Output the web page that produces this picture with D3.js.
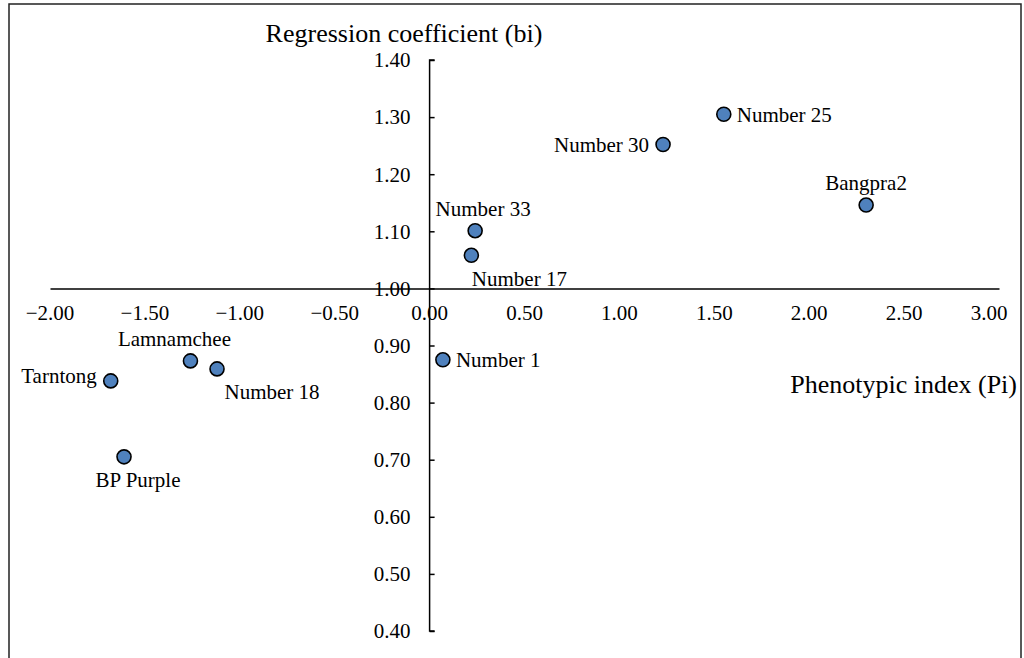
<!DOCTYPE html>
<html><head><meta charset="utf-8">
<script src="https://cdn.jsdelivr.net/npm/d3@7"></script>
<style>body{margin:0;background:#fff}svg{display:block}</style>
</head><body>
<script>
const varieties = ["Number 25","Number 30","Bangpra2","Number 33","Number 17","Number 1","Lamnamchee","Number 18","Tarntong","BP Purple"];
const phenotypicIndex = [1.55, 1.23, 2.30, 0.24, 0.22, 0.07, -1.26, -1.12, -1.68, -1.61];
const regressionCoef = [1.305, 1.252, 1.146, 1.101, 1.058, 0.875, 0.873, 0.859, 0.838, 0.705];
const labelPlacement = ["right","left","above","above","below","right","above","below","left","below"];
const xTicks = [-2.00,-1.50,-1.00,-0.50,0.00,0.50,1.00,1.50,2.00,2.50,3.00];
const yTicks = [0.40,0.50,0.60,0.70,0.80,0.90,1.00,1.10,1.20,1.30,1.40];

const FONT = "'Liberation Serif', 'Times New Roman', serif";
const W = 1024, H = 658;
const svg = d3.select("body").append("svg").attr("width", W).attr("height", H)
  .attr("font-family", FONT);
svg.append("rect").attr("x", 9).attr("y", 4).attr("width", 1012).attr("height", 700)
  .attr("fill", "none").attr("stroke", "#222").attr("stroke-width", 1.5);

const x = d3.scaleLinear().domain([-2, 3]).range([50, 999]);
const y = d3.scaleLinear().domain([0.4, 1.4]).range([631, 60]);
const fmt = d3.format(".2f");

// Y axis at x=0, ticks pointing right
const yAxis = d3.axisRight(y).tickValues(yTicks).tickSize(5).tickFormat("");
const gy = svg.append("g").attr("transform", `translate(${x(0)},0)`).call(yAxis);
gy.select(".domain").attr("d", `M5,${y(1.4)}H0V${y(0.4)}H5`).attr("stroke", "#000").attr("stroke-width", 1.5);
gy.selectAll(".tick line").attr("stroke", "#000").attr("stroke-width", 1.5);
svg.append("g").selectAll("text").data(yTicks).join("text")
  .attr("font-family", FONT)
  .attr("x", x(0) - 19).attr("y", d => y(d)).attr("dy", "0.35em")
  .attr("text-anchor", "end").attr("font-size", 21).text(fmt);

// X axis at y=1.00
const xAxis = d3.axisBottom(x).tickValues(xTicks).tickSize(0).tickFormat("");
const gx = svg.append("g").attr("transform", `translate(0,${y(1)})`).call(xAxis);
gx.select(".domain").attr("stroke", "#000").attr("stroke-width", 1.5);
svg.append("g").selectAll("text").data(xTicks).join("text")
  .attr("font-family", FONT)
  .attr("x", (d, i) => x(d) - (i === xTicks.length - 1 ? 10 : 0)).attr("y", y(1) + 32)
  .attr("text-anchor", "middle").attr("font-size", 21).text(fmt);

// Axis titles
svg.append("text").attr("font-family", FONT).attr("x", 404).attr("y", 42).attr("text-anchor", "middle")
  .attr("font-size", 26).text("Regression coefficient (bi)");
svg.append("text").attr("font-family", FONT).attr("x", 1017).attr("y", 393).attr("text-anchor", "end")
  .attr("font-size", 26).text("Phenotypic index (Pi)");

// Points
const pts = varieties.map((name, i) => ({name, px: phenotypicIndex[i], by: regressionCoef[i], pos: labelPlacement[i]}));
svg.append("g").selectAll("circle").data(pts).join("circle")
  .attr("cx", d => x(d.px)).attr("cy", d => y(d.by)).attr("r", 7)
  .attr("fill", "#4f81bd").attr("stroke", "#000").attr("stroke-width", 1.6);

// Labels
const nudge = {"Number 33": [8, 0], "Number 17": [48, 0], "Lamnamchee": [-16, 0], "Number 18": [55, 0], "BP Purple": [14, 0], "Tarntong": [0, -5]};
svg.append("g").selectAll("text").data(pts).join("text")
  .attr("font-family", FONT)
  .attr("font-size", 21)
  .attr("text-anchor", d => d.pos === "right" ? "start" : d.pos === "left" ? "end" : "middle")
  .attr("x", d => x(d.px) + (d.pos === "right" ? 13 : d.pos === "left" ? -14 : 0) + (nudge[d.name] ? nudge[d.name][0] : 0))
  .attr("y", d => y(d.by) + (d.pos === "above" ? -22 : d.pos === "below" ? 23 : 0) + (nudge[d.name] ? nudge[d.name][1] : 0))
  .attr("dy", "0.35em")
  .text(d => d.name);
</script>
</body></html>
